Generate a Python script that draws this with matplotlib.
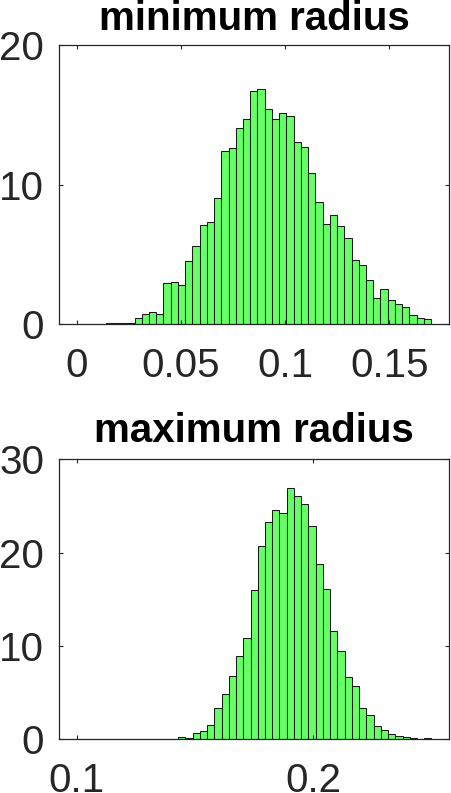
import matplotlib

matplotlib.use("Agg")

import matplotlib.pyplot as plt
import numpy as np

# histogram bin ranges (49 equal bins each)
min_range = (0.0, 0.17)
max_range = (0.1, 0.25)
n_bins = 49

# normalized counts (pdf)
min_radius_pdf = [
    0.03, 0.02, 0.03, 0.03, 0.08, 0.08, 0.12, 0.12, 0.43, 0.74,
    0.91, 0.74, 2.94, 3.00, 2.79, 4.51, 5.63, 7.09, 7.30, 9.05,
    12.41, 12.65, 14.03, 14.73, 16.71, 16.83, 15.44, 14.73, 15.13, 14.94,
    13.05, 12.67, 10.84, 8.78, 7.21, 7.80, 7.02, 6.18, 4.61, 4.25,
    3.20, 1.89, 2.55, 1.72, 1.46, 1.26, 0.67, 0.48, 0.36,
]
max_radius_pdf = [
    0.0, 0.0, 0.0, 0.0, 0.0, 0.0, 0.0, 0.0, 0.0, 0.0,
    0.0, 0.0, 0.0, 0.0, 0.25, 0.14, 0.71, 0.92, 1.52, 3.37,
    4.82, 6.74, 8.94, 10.85, 15.96, 20.74, 23.30, 24.57, 24.22, 26.88,
    26.10, 25.18, 22.84, 18.79, 16.13, 11.56, 9.47, 6.70, 5.71, 3.40,
    2.59, 1.38, 0.96, 0.60, 0.35, 0.21, 0.11, 0.07, 0.14,
]

min_xticks = [0, 0.05, 0.1, 0.15]
min_xticklabels = ["0", "0.05", "0.1", "0.15"]
min_yticks = [0, 10, 20]
max_xticks = [0.1, 0.2]
max_xticklabels = ["0.1", "0.2"]
max_yticks = [0, 10, 20, 30]

plt.rcParams["font.family"] = ["Liberation Sans", "DejaVu Sans"]

FACE = "#66ff66"
EDGE = "#1a1a1a"
TXT = "#262626"


def draw_hist(ax, rng, pdf, title, xlim, ylim, xticks, xlabels, yticks, title_pad):
    edges = np.linspace(rng[0], rng[1], n_bins + 1)
    width = edges[1] - edges[0]
    ax.bar(edges[:-1], pdf, width=width, align="edge", color=FACE,
           edgecolor=EDGE, linewidth=0.75)
    ax.set_xlim(*xlim)
    ax.set_ylim(*ylim)
    ax.set_xticks(xticks)
    ax.set_xticklabels(xlabels)
    ax.set_yticks(yticks)
    ax.tick_params(direction="in", length=3, width=0.8, top=True, right=True,
                   labelsize=29, colors=TXT, labelcolor=TXT)
    ax.tick_params(axis="x", pad=16)
    ax.tick_params(axis="y", pad=11)
    for s in ax.spines.values():
        s.set_color(TXT)
        s.set_linewidth(0.9)
    ax.set_title(title, fontsize=29, fontweight="bold", pad=title_pad)


fig = plt.figure(figsize=(4.51, 7.93), dpi=100)
ax1 = fig.add_axes([0.1315, 0.591, 0.864, 0.3522])
ax2 = fig.add_axes([0.1315, 0.0677, 0.864, 0.3531])

draw_hist(ax1, min_range, min_radius_pdf, "minimum radius",
          (-0.00835, 0.1786), (0, 20), min_xticks, min_xticklabels, min_yticks, 10.8)
draw_hist(ax2, max_range, max_radius_pdf, "maximum radius",
          (0.0926, 0.2574), (0, 30), max_xticks, max_xticklabels, max_yticks, 12.7)

fig.savefig("out.png", dpi=100)
